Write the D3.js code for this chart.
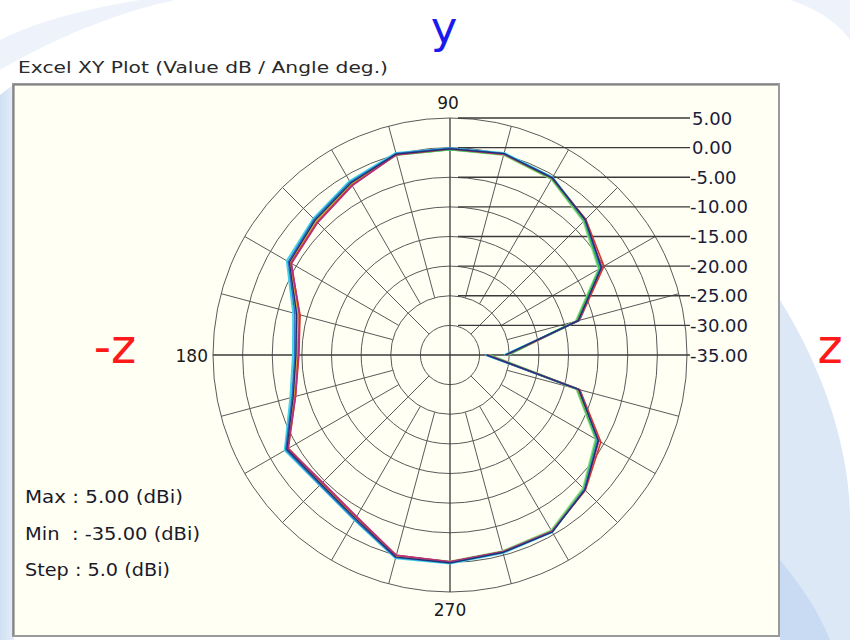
<!DOCTYPE html>
<html><head><meta charset="utf-8">
<script src="https://cdn.jsdelivr.net/npm/d3@7/dist/d3.min.js"></script>
<style>html,body{margin:0;padding:0;background:#fff;}svg{display:block;}</style>
</head><body>
<svg id="c" width="850" height="640"></svg>
<script>
// ---- data ----
const angles = [0,15,30,45,60,75,90,105,120,135,150,165,180,195,210,225,240,255,270,285,300,315,330,345,360];
const levels = [5,0,-5,-10,-15,-20,-25,-30,-35];
const levelLabels = ["5.00","0.00","-5.00","-10.00","-15.00","-20.00","-25.00","-30.00","-35.00"];
const angleLabels = ["90","180","270"];
const sNavy    = [-25.6,-12.6,-5.5,-2.7,-0.5,0.2,-0.2,0.1,-1.5,-2.8,-3.7,-8.2,-9.0,-7.6,-3.2,-4.2,-3.1,0.3,0.1,-0.5,-0.5,-2.8,-6.1,-12.5,-28.8];
const sBlue    = [-25.7,-12.5,-5.6,-2.8,-0.4,0.2,-0.1,0.2,-1.3,-2.6,-3.5,-7.9,-8.8,-7.4,-3.0,-4.0,-2.9,0.4,0.1,-0.5,-0.5,-2.9,-6.2,-12.4,-28.9];
const sMagenta = [-25.5,-12.6,-5.4,-2.7,-0.5,0.1,-0.2,0.0,-2.0,-3.4,-4.1,-8.7,-9.4,-8.0,-3.4,-4.6,-3.5,0.0,-0.1,-0.6,-0.6,-2.8,-6.0,-12.5,-28.7];
const sRed     = [-25.5,-12.4,-5.0,-2.6,-0.5,0.1,-0.2,0.0,-1.9,-3.3,-4.0,-8.8,-9.5,-8.0,-3.5,-4.5,-3.4,0.0,-0.1,-0.6,-0.6,-2.7,-5.6,-12.3,-28.7];
const sOrange  = [-25.5,-12.6,-5.5,-2.8,-0.5,0.1,-0.2,0.0,-1.8,-3.1,-3.8,-8.5,-9.2,-7.8,-3.3,-4.4,-3.3,0.1,0.0,-0.6,-0.6,-2.9,-6.1,-12.6,-28.7];
const sCyan    = [-25.8,-12.4,-5.6,-2.7,-0.4,0.3,-0.1,0.3,-1.1,-2.4,-3.2,-7.6,-8.5,-7.1,-2.8,-3.9,-2.8,0.5,0.2,-0.4,-0.5,-2.9,-6.2,-12.4,-29.0];
const sLight   = [-25.2,-13.0,-6.0,-3.1,-0.7,0.0,-0.3,0.0,-1.6,-2.9,-3.8,-8.2,-9.0,-7.6,-3.3,-4.3,-3.2,0.2,-0.1,-0.7,-0.8,-3.2,-6.6,-12.9,-28.4];
const sGreen   = [-25.4,-12.8,-5.8,-2.9,-0.6,0.1,-0.3,0.0,-1.6,-2.9,-3.8,-8.3,-9.1,-7.7,-3.3,-4.3,-3.2,0.2,0.0,-0.6,-0.6,-3.0,-6.4,-12.7,-28.6];
const seriesList = [
  {v:sLight, c:"#8fe08a", w:2.4}, {v:sGreen, c:"#35b850", w:2.2}, {v:sCyan, c:"#45d3e6", w:2.0},
  {v:sOrange, c:"#e2a23c", w:1.6}, {v:sRed, c:"#d23a2a", w:1.6}, {v:sMagenta, c:"#b5307e", w:1.6},
  {v:sBlue, c:"#2e68c8", w:1.5}, {v:sNavy, c:"#1f2f6b", w:1.2}
];

// ---- layout ----
const svg = d3.select("#c");
const cx = 450, cy = 355, R = 237;
const rScale = d3.scaleLinear().domain([-35, 5]).range([0, R]);
const rad = a => a * Math.PI / 180;

// background decoration
const defs = svg.append("defs");
const g1 = defs.append("linearGradient").attr("id","bl").attr("x1","0").attr("y1","0").attr("x2","1").attr("y2","0");
g1.append("stop").attr("offset","0").attr("stop-color","#cfdff3");
g1.append("stop").attr("offset","1").attr("stop-color","#e6eefa");
svg.append("rect").attr("x",0).attr("y",0).attr("width",850).attr("height",640).attr("fill","#ffffff");
svg.append("path").attr("d","M0,95 C6,90 12,86 14,84 L14,640 L0,640 Z").attr("fill","url(#bl)");
svg.append("path").attr("d","M0,40 C40,20 90,8 140,0 L175,0 C120,12 60,35 0,70 Z").attr("fill","#eef3fb");
svg.append("path").attr("d","M780,300 C830,380 850,460 850,520 L850,640 L780,640 Z").attr("fill","#dde8f7");
svg.append("path").attr("d","M780,560 C805,590 820,615 830,640 L780,640 Z").attr("fill","#c9dbf2");
svg.append("path").attr("d","M790,0 C820,10 840,25 850,40 L850,0 Z").attr("fill","#eef3fb");

// title
svg.append("text").attr("x",18).attr("y",73)
  .attr("font-family","DejaVu Sans, sans-serif").attr("font-size",15).attr("fill","#2a2a2a")
  .attr("textLength",370).attr("lengthAdjust","spacingAndGlyphs")
  .text("Excel XY Plot (Value dB / Angle deg.)");

// panel
svg.append("rect").attr("x",13).attr("y",84).attr("width",766).attr("height",552)
  .attr("fill","#fffff4").attr("stroke","#9a9a9a").attr("stroke-width",2);
svg.append("line").attr("x1",14).attr("y1",85).attr("x2",778).attr("y2",85).attr("stroke","#6e6e6e").attr("stroke-width",1);
svg.append("line").attr("x1",14).attr("y1",85).attr("x2",14).attr("y2",635).attr("stroke","#6e6e6e").attr("stroke-width",1);

const plot = svg.append("g").attr("transform",`translate(${cx},${cy})`);

// rings
const ringLevels = levels.filter(l => l > -35);
plot.selectAll("circle.ring").data(ringLevels).join("circle")
  .attr("class","ring").attr("r", d => rScale(d))
  .attr("fill","none").attr("stroke","#5a5a5a").attr("stroke-width",1);

// spokes every 15 degrees
const spokeAngles = d3.range(0, 360, 15).filter(a => a % 90 !== 0);
plot.selectAll("line.spoke").data(spokeAngles).join("line")
  .attr("class","spoke")
  .attr("x1", a => Math.cos(rad(a)) * (a % 45 === 0 ? rScale(-30) : rScale(-25)))
  .attr("y1", a => -Math.sin(rad(a)) * (a % 45 === 0 ? rScale(-30) : rScale(-25)))
  .attr("x2", a => Math.cos(rad(a)) * R)
  .attr("y2", a => -Math.sin(rad(a)) * R)
  .attr("stroke","#5a5a5a").attr("stroke-width",1);

// axes
const labelX = 690;
plot.append("line").attr("x1",-R).attr("y1",0).attr("x2",labelX-cx).attr("y2",0).attr("stroke","#3a3a3a").attr("stroke-width",1.3);
plot.append("line").attr("x1",0).attr("y1",-R).attr("x2",0).attr("y2",R).attr("stroke","#3a3a3a").attr("stroke-width",1.3);

// level leader lines + labels
const lead = levels.filter(l => l > -35);
plot.selectAll("line.lead").data(lead).join("line")
  .attr("class","lead")
  .attr("x1", 8).attr("x2", labelX - cx)
  .attr("y1", d => -rScale(d)).attr("y2", d => -rScale(d))
  .attr("stroke","#3a3a3a").attr("stroke-width",1.3);
plot.selectAll("text.lvl").data(levels).join("text")
  .attr("class","lvl")
  .attr("x", d => (d < 0 ? labelX : labelX + 2) - cx).attr("y", d => -rScale(d) + 6.5)
  .attr("font-family","DejaVu Sans, sans-serif").attr("font-size",18).attr("fill","#1c1c3a")
  .text((d,i) => levelLabels[i]);

// angle labels
const fontA = "DejaVu Sans, sans-serif";
plot.append("text").attr("x",-2).attr("y",-R-9).attr("text-anchor","middle").attr("font-family",fontA).attr("font-size",17).attr("fill","#1a1a1a").text(angleLabels[0]);
plot.append("text").attr("x",-R-5).attr("y",6.5).attr("text-anchor","end").attr("font-family",fontA).attr("font-size",17).attr("fill","#1a1a1a").text(angleLabels[1]);
plot.append("text").attr("x",0).attr("y",R+24).attr("text-anchor","middle").attr("font-family",fontA).attr("font-size",17).attr("fill","#1a1a1a").text(angleLabels[2]);

// traces
const line = d3.lineRadial()
  .angle(d => rad(90 - d.a))
  .radius(d => rScale(d.v));
seriesList.forEach(s => {
  const pts = angles.map((a,i) => ({a:a, v:s.v[i]}));
  plot.append("path").attr("d", line(pts))
    .attr("fill","none").attr("stroke", s.c).attr("stroke-width", s.w).attr("stroke-linejoin","round");
});

// stats text
const stats = ["Max : 5.00 (dBi)", "Min  : -35.00 (dBi)", "Step : 5.0 (dBi)"];
const statW = [158, 175, 145];
svg.selectAll("text.st").data(stats).join("text").attr("class","st")
  .attr("x",25).attr("y",(d,i) => 503 + i*36.5)
  .attr("font-family","DejaVu Sans, sans-serif").attr("font-size",17).attr("fill","#1a1a2a")
  .attr("textLength",(d,i) => statW[i]).attr("lengthAdjust","spacingAndGlyphs")
  .style("white-space","pre")
  .text(d => d);

// axis annotations
svg.append("text").attr("x",444).attr("y",43).attr("text-anchor","middle")
  .attr("font-family","DejaVu Sans, sans-serif").attr("font-size",45).attr("fill","#1a1aee").text("y");
svg.append("text").attr("x",115).attr("y",363).attr("text-anchor","middle")
  .attr("font-family","DejaVu Sans, sans-serif").attr("font-size",48).attr("fill","#ff1a1a").text("-z");
svg.append("text").attr("x",830).attr("y",363).attr("text-anchor","middle")
  .attr("font-family","DejaVu Sans, sans-serif").attr("font-size",48).attr("fill","#ff1a1a").text("z");
</script>
</body></html>
